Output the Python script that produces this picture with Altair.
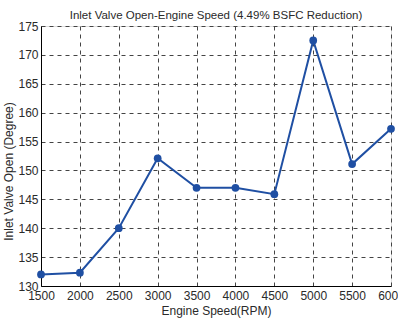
import altair as alt
import pandas as pd

# Engine speed (RPM) and inlet valve opening angle (degree)
speeds = [1500, 2000, 2500, 3000, 3500, 4000, 4500, 5000, 5500, 6000]
ivo = [132.0, 132.3, 140.0, 152.1, 147.0, 147.0, 145.9, 172.5, 151.1, 157.2]

x_ticks = [1500, 2000, 2500, 3000, 3500, 4000, 4500, 5000, 5500, 6000]
y_ticks = [130, 135, 140, 145, 150, 155, 160, 165, 170, 175]

df = pd.DataFrame({"speed": speeds, "ivo": ivo})

FONT = "Liberation Sans"
BLUE = "#1f4fa3"
TEXT = "#2a2a2a"

x_enc = alt.X(
    "speed:Q",
    scale=alt.Scale(domain=[1500, 6000], nice=False, zero=False),
    axis=alt.Axis(
        values=x_ticks, title="Engine Speed(RPM)", format="d",
        grid=True, gridDash=[4, 4], gridColor="#444444", gridWidth=1,
        domainColor="black", tickColor="black", tickSize=0,
        labelFont=FONT, labelFontSize=12, labelColor=TEXT, labelPadding=4,
        titleFont=FONT, titleFontSize=12, titleFontWeight="normal",
        titleColor=TEXT, titlePadding=4, labelFlush=False,
    ),
)
y_enc = alt.Y(
    "ivo:Q",
    scale=alt.Scale(domain=[130, 175], nice=False, zero=False),
    axis=alt.Axis(
        values=y_ticks, title="Inlet Valve Open (Degree)",
        grid=True, gridDash=[4, 4], gridColor="#444444", gridWidth=1,
        domainColor="black", tickColor="black", tickSize=0,
        labelFont=FONT, labelFontSize=12, labelColor=TEXT, labelPadding=3,
        titleFont=FONT, titleFontSize=12, titleFontWeight="normal",
        titleColor=TEXT, titleX=-33, titleY=145, titleBaseline="middle",
        titleAngle=270, titleAlign="center",
    ),
)

base = alt.Chart(df).encode(x=x_enc, y=y_enc)
line = base.mark_line(color=BLUE, strokeWidth=2)
pts = base.mark_circle(color=BLUE, size=60, opacity=1)

chart = (
    alt.layer(line, pts)
    .properties(
        width=350,
        height=260,
        title=alt.TitleParams(
            "Inlet Valve Open-Engine Speed (4.49% BSFC Reduction)",
            font=FONT, fontSize=11.5, fontWeight="normal", color=TEXT,
            anchor="middle", offset=6, dy=7,
        ),
        autosize=alt.AutoSizeParams(type="none"),
        padding={"left": 41, "top": 26, "right": 7, "bottom": 36},
    )
    .configure_view(stroke="black", strokeWidth=1.2)
    .configure(background="white")
)

chart.save("out.html", embed_options={"renderer": "svg", "actions": False})
